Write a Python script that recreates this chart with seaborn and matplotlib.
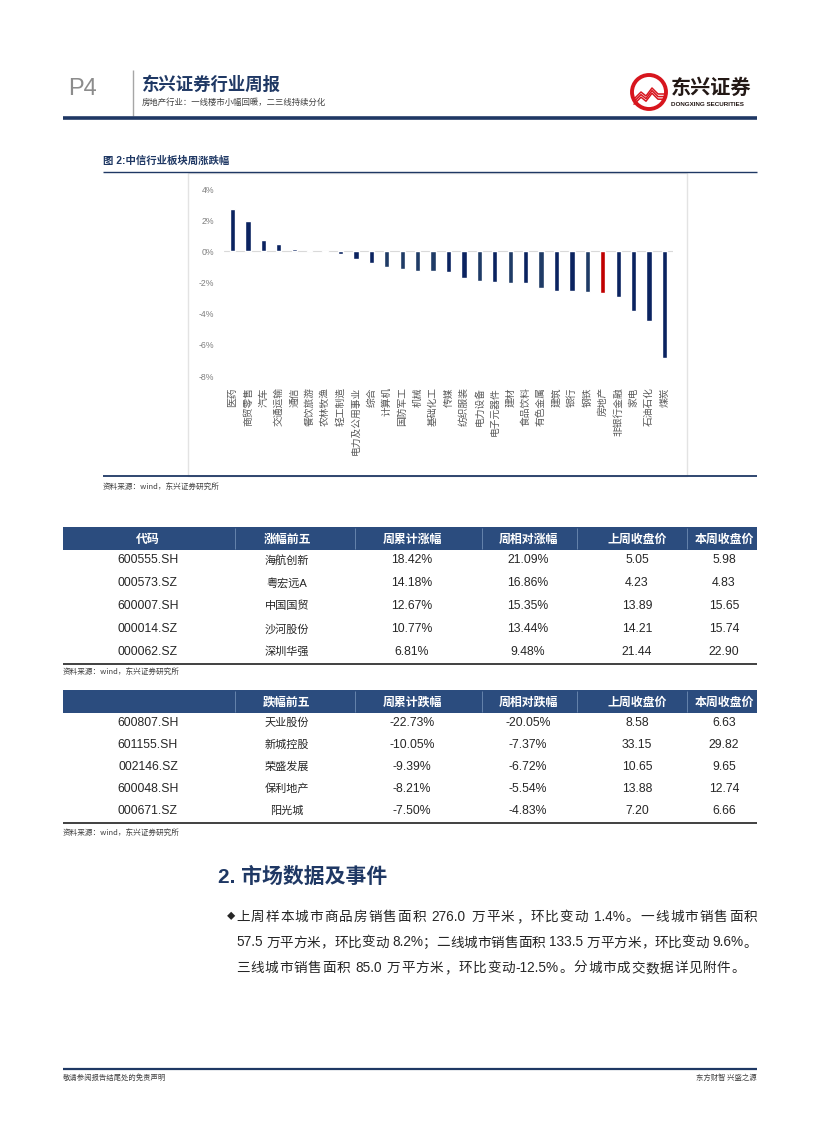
import matplotlib
matplotlib.use("Agg")
import matplotlib.pyplot as plt
import seaborn as sns
from matplotlib.lines import Line2D
from matplotlib.patches import Rectangle, Ellipse
from matplotlib.ticker import FuncFormatter

# ---------------- data ----------------
categories = ["医药", "商贸零售", "汽车", "交通运输", "通信", "餐饮旅游", "农林牧渔", "轻工制造",
              "电力及公用事业", "综合", "计算机", "国防军工", "机械", "基础化工", "传媒", "纺织服装",
              "电力设备", "电子元器件", "建材", "食品饮料", "有色金属", "建筑", "银行", "钢铁",
              "房地产", "非银行金融", "家电", "石油石化", "煤炭"]
values = [2.73, 1.94, 0.73, 0.45, 0.17, 0.10, -0.03, -0.17,
          -0.50, -0.77, -1.03, -1.14, -1.23, -1.23, -1.31, -1.72,
          -1.91, -1.98, -2.04, -2.04, -2.37, -2.54, -2.54, -2.58,
          -2.65, -2.92, -3.81, -4.45, -6.82]
y_ticks = [-8, -6, -4, -2, 0, 2, 4]

gain_headers = ["代码", "涨幅前五", "周累计涨幅", "周相对涨幅", "上周收盘价", "本周收盘价"]
gain_codes = ["600555.SH", "000573.SZ", "600007.SH", "000014.SZ", "000062.SZ"]
gain_names = ["海航创新", "粤宏远A", "中国国贸", "沙河股份", "深圳华强"]
gain_cum = ["18.42%", "14.18%", "12.67%", "10.77%", "6.81%"]
gain_rel = ["21.09%", "16.86%", "15.35%", "13.44%", "9.48%"]
gain_prev = ["5.05", "4.23", "13.89", "14.21", "21.44"]
gain_close = ["5.98", "4.83", "15.65", "15.74", "22.90"]

loss_headers = ["", "跌幅前五", "周累计跌幅", "周相对跌幅", "上周收盘价", "本周收盘价"]
loss_codes = ["600807.SH", "601155.SH", "002146.SZ", "600048.SH", "000671.SZ"]
loss_names = ["天业股份", "新城控股", "荣盛发展", "保利地产", "阳光城"]
loss_cum = ["-22.73%", "-10.05%", "-9.39%", "-8.21%", "-7.50%"]
loss_rel = ["-20.05%", "-7.37%", "-6.72%", "-5.54%", "-4.83%"]
loss_prev = ["8.58", "33.15", "10.65", "13.88", "7.20"]
loss_close = ["6.63", "29.82", "9.65", "12.74", "6.66"]

para_lines = ["上周样本城市商品房销售面积 276.0 万平米，环比变动 1.4%。一线城市销售面积",
              "57.5 万平方米，环比变动 8.2%；二线城市销售面积 133.5 万平方米，环比变动 9.6%。",
              "三线城市销售面积 85.0 万平方米，环比变动-12.5%。分城市成交数据详见附件。"]

# ---------------- style ----------------
sns.set_theme(style="white")
plt.rcParams['font.family'] = ['Liberation Sans', 'Noto Sans CJK SC', 'DejaVu Sans']
CJK = ['Noto Sans CJK SC', 'DejaVu Sans']
MIX = ['Liberation Sans', 'Noto Sans CJK SC', 'DejaVu Sans']
NAVY = "#1F3864"
HEAD = "#2B4C7E"
DARK = "#0B2360"
MID = "#1F3B66"
RED = "#C00000"
LOGO_RED = "#D7161E"
shade = ["d", "d", "d", "d", "d", "d", "d", "d", "d", "d", "m", "m", "m", "m", "d", "d",
         "m", "d", "m", "d", "m", "d", "d", "m", "r", "d", "d", "d", "d"]
cmap = {"d": DARK, "m": MID, "r": RED}
bar_colors = [cmap[s] for s in shade]

W, H = 827, 1122
fig = plt.figure(figsize=(W / 100, H / 100), dpi=100)
fig.patch.set_facecolor("white")
renderer = fig.canvas.get_renderer()


def fx(x):
    return x / W


def fy(y):
    return 1 - y / H


def txt(x, y, s, size, color="black", ha="left", va="center", weight="normal", family=MIX, style="normal"):
    return fig.text(fx(x), fy(y), s, fontsize=size, color=color, ha=ha, va=va,
                    fontweight=weight, family=family, style=style)


def hline(x0, x1, y, color, lw):
    fig.add_artist(Line2D([fx(x0), fx(x1)], [fy(y), fy(y)], color=color, lw=lw,
                          transform=fig.transFigure, solid_capstyle="butt"))


def vline(x, y0, y1, color, lw):
    fig.add_artist(Line2D([fx(x), fx(x)], [fy(y0), fy(y1)], color=color, lw=lw,
                          transform=fig.transFigure, solid_capstyle="butt"))


def width_of(s, size):
    t = fig.text(0, 0, s, fontsize=size, family=MIX)
    w = t.get_window_extent(renderer=renderer).width
    t.remove()
    return w


def tracked(x, y, s, size, color, end_x):
    """Place text so that gaps touching CJK characters get extra spacing (justified)."""
    sp = width_of("x x", size) - width_of("xx", size)
    # split into chunks: runs of ASCII non-space chars are kept together
    chunks = []
    cur = ""
    for ch in s:
        if ord(ch) < 128 and ch != " ":
            cur += ch
        else:
            if cur:
                chunks.append(cur)
                cur = ""
            chunks.append(ch)
    if cur:
        chunks.append(cur)
    ws = [sp if c == " " else width_of(c, size) for c in chunks]
    extra = (end_x - x - sum(ws)) / (len(chunks) - 1)
    pos = x
    for c, w in zip(chunks, ws):
        if c != " ":
            txt(pos, y, c, size, color=color)
        pos += w + extra


# ---------------- header ----------------
txt(68, 89, "P4", 17, color="#8C8C8C", family=['Liberation Sans'])
vline(133, 70, 116, "#A6A6A6", 1.0)
txt(142, 85, "东兴证券行业周报", 12.5, color=NAVY, weight="bold", family=CJK)
txt(142, 102, "房地产行业：一线楼市小幅回暖，二三线持续分化", 6, color="#404040", family=CJK)
hline(63, 757, 117.5, NAVY, 2.6)

# logo
fig.add_artist(Ellipse((fx(649), fy(92)), 34 / W, 34 / H, transform=fig.transFigure,
                       facecolor="white", edgecolor=LOGO_RED, lw=2.8))
for k in range(3):
    d = k * 2.6
    pts = [(634, 99 + d), (641, 92 + d), (646, 96 + d), (652, 88 + d), (658, 94 + d), (665, 94 + d)]
    fig.add_artist(Line2D([fx(a) for a, b in pts], [fy(b) for a, b in pts], color=LOGO_RED,
                          lw=1.1, transform=fig.transFigure))
txt(671, 87, "东兴证券", 14.5, color="#231815", weight="bold", family=CJK)
txt(671, 104, "DONGXING SECURITIES", 4.5, color="#231815", weight="bold", family=['Liberation Sans'])

# ---------------- figure 2 title ----------------
txt(103, 161, "图 2:中信行业板块周涨跌幅", 7.5, color=NAVY, weight="bold", family=MIX)
hline(103, 757, 171.5, NAVY, 1.0)
fig.add_artist(Rectangle((fx(188), fy(476)), (687 - 188) / W, (476 - 173) / H,
                         transform=fig.transFigure, facecolor="none", edgecolor="#E3E3E3", lw=1.0))
hline(103, 757, 476, NAVY, 1.3)
txt(103, 487, "资料来源：wind，东兴证券研究所", 5.5, color="#404040", family=CJK, style="italic")

# ---------------- bar chart ----------------
ax = fig.add_axes([fx(224), fy(376), (673 - 224) / W, (376 - 189) / H])
ax.set_facecolor("none")
sns.barplot(x=categories, y=values, hue=categories, palette=bar_colors, legend=False,
            width=0.35, saturation=1, ax=ax)
ax.axhline(0, color="#D9D9D9", lw=0.8, zorder=0)
ax.set_ylim(-8, 4)
ax.set_xlim(-0.55, len(categories) - 0.45)
ax.set_yticks(y_ticks)
ax.yaxis.set_major_formatter(FuncFormatter(lambda v, p: f"{v:.0f}%"))
for s in ax.spines.values():
    s.set_visible(False)
ax.tick_params(axis="y", length=0, pad=7, labelsize=6.3, labelcolor="#7F7F7F")
ax.tick_params(axis="x", length=0, pad=8, labelsize=7.0, labelcolor="#595959")
ax.set_xticks(range(len(categories)))
ax.set_xticklabels(categories, rotation=90, family=CJK)
ax.set_xlabel("")
ax.set_ylabel("")
ax.grid(False)

# ---------------- tables ----------------
col_x = [148, 287, 412, 528, 637, 724]
div_x = [235, 355, 482, 577, 687]


def draw_table(y_top, y_bot, headers, rows, line_y, src_y, row_y):
    fig.add_artist(Rectangle((fx(63), fy(y_bot)), (757 - 63) / W, (y_bot - y_top) / H,
                             transform=fig.transFigure, facecolor=HEAD, edgecolor="none"))
    for d in div_x:
        vline(d, y_top + 1, y_bot - 1, "#6F8CB3", 0.6)
    for cx, h in zip(col_x, headers):
        txt(cx, (y_top + y_bot) / 2 + 0.5, h, 8.6, color="white", ha="center", weight="bold", family=CJK)
    for ry, row in zip(row_y, rows):
        for j, (cx, v) in enumerate(zip(col_x, row)):
            if j == 1:
                txt(cx, ry, v, 8.0, color="#262626", ha="center", family=MIX)
            else:
                txt(cx, ry, v, 8.8, color="#262626", ha="center", family=MIX)
    hline(63, 757, line_y, "#404040", 1.4)
    txt(63, src_y, "资料来源：wind，东兴证券研究所", 5.5, color="#404040", family=CJK, style="italic")


rows1 = list(zip(gain_codes, gain_names, gain_cum, gain_rel, gain_prev, gain_close))
draw_table(527, 550, gain_headers, rows1, 663.5, 672, [560, 583, 606, 629, 652])
rows2 = list(zip(loss_codes, loss_names, loss_cum, loss_rel, loss_prev, loss_close))
draw_table(690, 713, loss_headers, rows2, 822.5, 833, [723, 745, 767, 789, 811])

# ---------------- section 2 ----------------
txt(218, 877, "2. 市场数据及事件", 15, color=NAVY, weight="bold", family=MIX)
txt(227, 917, "◆", 6, color="#262626", family=CJK)
PSIZE = 9.8
tracked(236, 917, para_lines[0], PSIZE, "#262626", end_x=757)
tracked(236, 942.5, para_lines[1], PSIZE, "#262626", end_x=757)
tracked(236, 968, para_lines[2], PSIZE, "#262626", end_x=745)

# ---------------- footer ----------------
hline(63, 757, 1069, NAVY, 1.6)
txt(63, 1078, "敬请参阅报告结尾处的免责声明", 5.3, color="#404040", family=CJK)
txt(757, 1078, "东方财智 兴盛之源", 5.3, color="#404040", ha="right", family=CJK)

fig.savefig("out.png", dpi=100, facecolor="white")
